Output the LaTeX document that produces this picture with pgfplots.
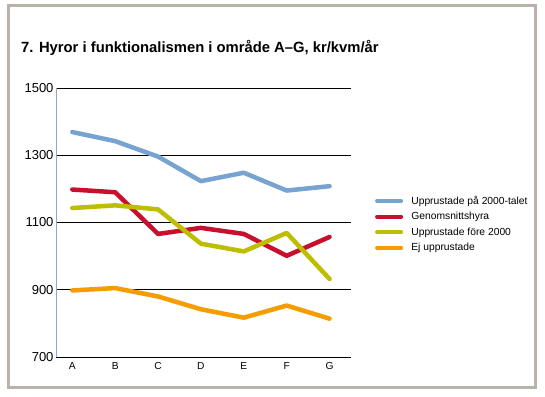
\documentclass[border=0pt]{standalone}
\usepackage{pgfplots}
\pgfplotsset{compat=1.18}
\usepackage{fontspec}
\setmainfont{Liberation Sans}
\definecolor{cblue}{RGB}{118,163,207}
\definecolor{cred}{RGB}{200,16,46}
\definecolor{cyellow}{RGB}{190,190,0}
\definecolor{corange}{RGB}{245,156,0}
\definecolor{framegray}{RGB}{184,178,170}
\definecolor{axblue}{RGB}{130,170,210}
\begin{document}
\begin{tikzpicture}[x=1pt,y=1pt]
\useasboundingbox (0,0) rectangle (545,396);
\draw[framegray, line width=3pt] (8.5,8.5) rectangle (535,390);
\node[anchor=base west, font=\fontsize{14.8}{17}\selectfont\bfseries, inner sep=0] at (21,343) {7. Hyror i funktionalismen i område A–G, kr/kvm/år};
\begin{axis}[
  at={(56pt,39pt)}, anchor=south west,
  scale only axis, width=295pt, height=269pt,
  xmin=-0.38, xmax=6.5, ymin=700, ymax=1500,
  xtick={0,...,6}, xticklabels={A,B,C,D,E,F,G},
  ytick={700,900,1100,1300,1500},
  /pgf/number format/assume math mode=true,
  /pgf/number format/1000 sep={},
  x tick label style={font=\fontsize{10.2}{12}\selectfont, yshift=-2pt},
  y tick label style={font=\fontsize{13}{15}\selectfont, xshift=1pt},
  major tick length=0pt,
  axis x line=bottom, axis y line=left,
  x axis line style={draw=black, line width=0.9pt, -},
  y axis line style={draw=axblue, line width=0.8pt, -},
  ymajorgrids, grid style={black, line width=0.9pt},
  clip=false,
  every axis plot/.append style={line width=4.5pt, line join=round, line cap=round, mark=none},
  legend style={at={(1.081,0.603)}, anchor=north west, draw=none, fill=none,
    font=\fontsize{10.3}{12}\selectfont, row sep=4.5pt, inner sep=0pt,
    nodes={inner xsep=0pt, inner ysep=1pt}},
  legend cell align=left,
  legend image code/.code={\draw[#1, line width=4pt, line cap=round] (0pt,0pt) -- (24pt,0pt); \path (32pt,0pt);},
]
\addplot[cblue] coordinates {(0,1369) (1,1342) (2,1296) (3,1223) (4,1248) (5,1195) (6,1208)};
\addlegendentry{Upprustade på 2000-talet}
\addplot[cred] coordinates {(0,1198) (1,1190) (2,1066) (3,1084) (4,1066) (5,1001) (6,1057)};
\addlegendentry{Genomsnittshyra}
\addplot[cyellow] coordinates {(0,1143) (1,1151) (2,1139) (3,1037) (4,1014) (5,1069) (6,932)};
\addlegendentry{Upprustade före 2000}
\addplot[corange] coordinates {(0,898) (1,905) (2,880) (3,842) (4,817) (5,853) (6,814)};
\addlegendentry{Ej upprustade}
\end{axis}
\end{tikzpicture}
\end{document}
